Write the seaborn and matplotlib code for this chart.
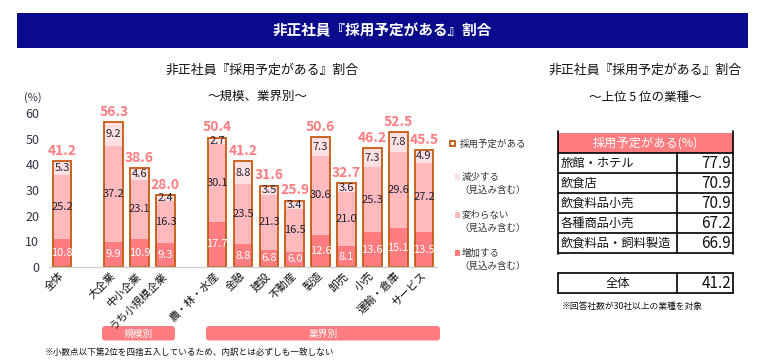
import numpy as np
import pandas as pd
import matplotlib
matplotlib.use("Agg")
import matplotlib.pyplot as plt
import seaborn as sns
from matplotlib.patches import Rectangle, FancyBboxPatch

# ---------------- data ----------------
categories = ["全体", "大企業", "中小企業", "うち小規模企業", "農・林・水産", "金融", "建設",
              "不動産", "製造", "卸売", "小売", "運輸・倉庫", "サービス"]
groups = ["全体", "規模別", "規模別", "規模別", "業界別", "業界別", "業界別",
          "業界別", "業界別", "業界別", "業界別", "業界別", "業界別"]
increase = [10.8, 9.9, 10.9, 9.3, 17.7, 8.8, 6.8, 6.0, 12.6, 8.1, 13.6, 15.1, 13.5]
unchanged = [25.2, 37.2, 23.1, 16.3, 30.1, 23.5, 21.3, 16.5, 30.6, 21.0, 25.3, 29.6, 27.2]
decrease = [5.3, 9.2, 4.6, 2.4, 2.7, 8.8, 3.5, 3.4, 7.3, 3.6, 7.3, 7.8, 4.9]
total = [41.2, 56.3, 38.6, 28.0, 50.4, 41.2, 31.6, 25.9, 50.6, 32.7, 46.2, 52.5, 45.5]
yticks = [0, 10, 20, 30, 40, 50, 60]

legend_labels = ["採用予定がある", "減少する", "変わらない", "増加する"]
legend_note = "（見込み含む）"

top5_names = ["旅館・ホテル", "飲食店", "飲食料品小売", "各種商品小売", "飲食料品・飼料製造"]
top5_values = [77.9, 70.9, 70.9, 67.2, 66.9]
overall_name = "全体"
overall_value = 41.2

# ---------------- style ----------------
C_INC = "#FF7C80"
C_SAME = "#FFBABD"
C_DEC = "#FFE1E3"
C_EDGE = "#C55A11"
C_NAVY = "#0A0A8C"
C_TXT = "#222233"

sns.set_theme(style="white")
plt.rcParams["font.family"] = ["Noto Sans CJK JP", "DejaVu Sans"]

W, H = 763, 364
fig = plt.figure(figsize=(W / 100, H / 100), dpi=100)

# overlay (pixel coordinates) for banner, legend, table
ov = fig.add_axes([0, 0, 1, 1], zorder=0)
ov.set_xlim(0, W)
ov.set_ylim(H, 0)
ov.axis("off")

# chart axes
ax = fig.add_axes([49 / W, (H - 267) / H, 388 / W, 154 / H], zorder=1)
ax.patch.set_alpha(0)

# positions with gaps between groups
gidx = pd.Series(groups).ne(pd.Series(groups).shift()).cumsum() - 1
pos = np.arange(len(categories)) + gidx.values

df = pd.DataFrame({"pos": pos, "inc": increase, "same": unchanged,
                   "dec": decrease, "total": total})
df["inc_same"] = df["inc"] + df["same"]

bw = 0.72
sns.barplot(data=df, x="pos", y="total", native_scale=True, width=bw,
            color=C_DEC, saturation=1, errorbar=None, ax=ax, linewidth=0)
sns.barplot(data=df, x="pos", y="inc_same", native_scale=True, width=bw,
            color=C_SAME, saturation=1, errorbar=None, ax=ax, linewidth=0)
sns.barplot(data=df, x="pos", y="inc", native_scale=True, width=bw,
            color=C_INC, saturation=1, errorbar=None, ax=ax, linewidth=0)
sns.barplot(data=df, x="pos", y="total", native_scale=True, width=bw,
            color=C_EDGE, fill=False, saturation=1, errorbar=None, ax=ax,
            linewidth=1.3)

for _, r in df.iterrows():
    ax.text(r["pos"], r["inc"] / 2, f"{r['inc']:.1f}", ha="center", va="center",
            color="white", fontsize=8)
    ax.text(r["pos"], r["inc"] + r["same"] / 2, f"{r['same']:.1f}", ha="center",
            va="center", color=C_TXT, fontsize=8)
    ax.text(r["pos"], (r["inc_same"] + r["total"]) / 2, f"{r['dec']:.1f}",
            ha="center", va="center", color=C_TXT, fontsize=8)
    ax.annotate(f"{r['total']:.1f}", (r["pos"], r["total"]), xytext=(0, 7.5),
                textcoords="offset points", ha="center", va="center",
                color=C_INC, fontsize=10, fontweight="bold", annotation_clip=False)

ax.set_xlim(-0.5, pos.max() + 0.5)
ax.set_ylim(0, 60)
ax.set_yticks(yticks)
ax.set_yticklabels([str(v) for v in yticks], fontsize=9, color="#333344")
ax.set_xticks(pos)
ax.set_xticklabels(categories, rotation=45, ha="right", va="center",
                   rotation_mode="anchor", fontsize=7.8, color="#111111")
ax.tick_params(axis="both", length=0)
ax.tick_params(axis="y", pad=7)
ax.tick_params(axis="x", pad=5)
ax.set_xlabel("")
ax.set_ylabel("")
for s in ["top", "right", "left"]:
    ax.spines[s].set_visible(False)
ax.spines["bottom"].set_color("#D0D0D0")
ax.spines["bottom"].set_linewidth(1)

# ---------------- banner ----------------
ov.add_patch(Rectangle((17, 13), 731, 35, facecolor=C_NAVY, edgecolor="none"))
ov.text(382, 30.5, "非正社員『採用予定がある』割合", color="white", fontsize=10.5,
        ha="center", va="center", fontweight="bold")

# ---------------- left titles ----------------
ov.text(262, 70, "非正社員『採用予定がある』割合", fontsize=9.3, ha="center",
        va="center", color="#111111")
ov.text(257, 96, "～規模、業界別～", fontsize=9, ha="center", va="center",
        color="#111111")
ov.text(33, 98, "(%)", fontsize=8, ha="center", va="center", color="#333344")

# ---------------- legend ----------------
ov.add_patch(Rectangle((450, 141), 5, 5, facecolor="none", edgecolor=C_EDGE, lw=1.3))
ov.text(460, 144, legend_labels[0], fontsize=6.8, ha="left", va="center", color="#333333")
for lab, col, yy in zip(legend_labels[1:], [C_DEC, C_SAME, C_INC], [177, 215, 253]):
    ov.add_patch(Rectangle((455, yy - 3), 5, 6, facecolor=col, edgecolor="none"))
    ov.text(462, yy, lab, fontsize=6.8, ha="left", va="center", color="#333333")
    ov.text(459, yy + 13, legend_note, fontsize=6.8, ha="left", va="center",
            color="#333333")

# ---------------- group bands ----------------
for (x0, wd, lab) in [(102, 73, "規模別"), (206, 234, "業界別")]:
    ov.add_patch(FancyBboxPatch((x0, 326), wd, 14.5,
                                boxstyle="round,pad=0,rounding_size=3",
                                facecolor=C_INC, edgecolor="none"))
    ov.text(x0 + wd / 2, 333.5, lab, color="white", fontsize=7, ha="center",
            va="center")

ov.text(45, 352, "※小数点以下第2位を四捨五入しているため、内訳とは必ずしも一致しない",
        fontsize=6.2, ha="left", va="center", color="#111111")

# ---------------- right table ----------------
ov.text(645, 70, "非正社員『採用予定がある』割合", fontsize=9.3, ha="center",
        va="center", color="#111111")
ov.text(645, 97, "～上位 5 位の業種～", fontsize=9, ha="center", va="center",
        color="#111111")

tx0, tx1, tsep = 558, 733, 677
hy, rh = 133, 20
ov.add_patch(Rectangle((tx0, hy), tx1 - tx0, rh, facecolor=C_INC, edgecolor="none"))
ov.text((tx0 + tx1) / 2, hy + rh / 2, "採用予定がある(%)", color="white",
        fontsize=8.8, ha="center", va="center")
n = len(top5_names)
for i, (nm, v) in enumerate(zip(top5_names, top5_values)):
    y0 = hy + rh * (i + 1)
    ov.text(tx0 + 3, y0 + rh / 2, nm, fontsize=8.8, ha="left", va="center",
            color="#111111")
    ov.text(tx1 - 2, y0 + rh / 2, f"{v:.1f}", fontsize=11, ha="right",
            va="center", color="#111111")
for i in range(n + 1):
    yl = hy + rh * (i + 1)
    ov.plot([tx0, tx1], [yl, yl], color="black", lw=1.2)
ybot = hy + rh * (n + 1)
ov.plot([tx0, tx0], [hy - 2, ybot + 1], color="black", lw=1.2)
ov.plot([tx1, tx1], [hy - 2, ybot + 1], color="black", lw=1.2)
ov.plot([tsep, tsep], [hy + rh, ybot], color="black", lw=1.2)

oy0, oy1 = 273, 293
ov.plot([tx0, tx1], [oy0, oy0], color="black", lw=1.2)
ov.plot([tx0, tx1], [oy1, oy1], color="black", lw=1.2)
for xv in [tx0, tsep, tx1]:
    ov.plot([xv, xv], [oy0, oy1], color="black", lw=1.2)
ov.text((tx0 + tsep) / 2, (oy0 + oy1) / 2, overall_name, fontsize=8.8,
        ha="center", va="center", color="#111111")
ov.text(tx1 - 2, (oy0 + oy1) / 2, f"{overall_value:.1f}", fontsize=11,
        ha="right", va="center", color="#111111")
ov.text(562, 307, "※回答社数が30社以上の業種を対象", fontsize=6.3, ha="left",
        va="center", color="#111111")

fig.savefig("out.png", dpi=100)
